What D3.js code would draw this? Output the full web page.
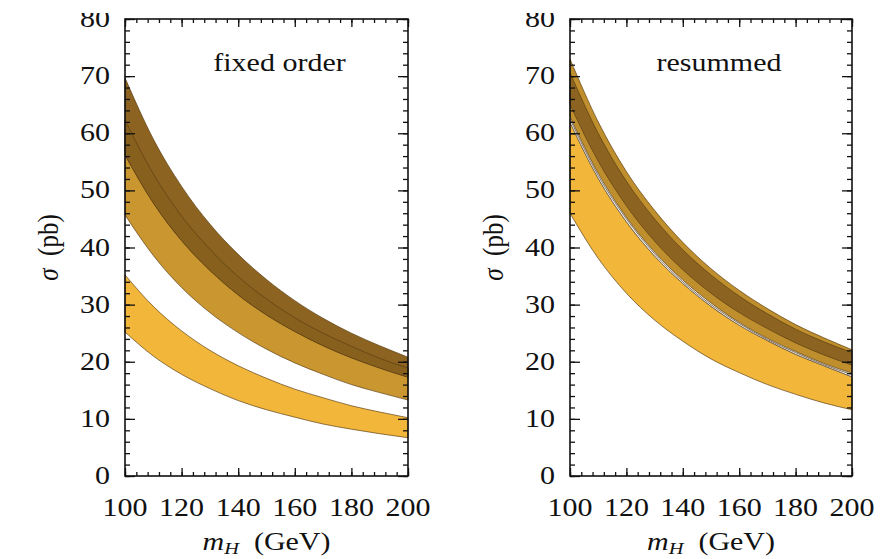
<!DOCTYPE html>
<html>
<head>
<meta charset="utf-8">
<script src="https://cdn.jsdelivr.net/npm/d3@7"></script>
<style>
  body { margin: 0; background: #fff; }
  text { font-family: "Liberation Serif", "Times New Roman", serif; fill: #111; }
</style>
</head>
<body>
<div id="chart"></div>
<script>
// Higgs mass grid (GeV)
const mH = [100, 110, 120, 130, 140, 150, 160, 170, 180, 190, 200];
const xTicks = [100, 120, 140, 160, 180, 200];
const yTicks = [0, 10, 20, 30, 40, 50, 60, 70, 80];

// fixed order panel (pb)
const loLow    = [25.2, 21.0, 17.8, 15.3, 13.2, 11.6, 10.3, 9.1, 8.2, 7.4, 6.7];
const loHigh   = [35.2, 29.7, 25.4, 22.0, 19.3, 17.1, 15.2, 13.7, 12.3, 11.2, 10.2];
const nloLow   = [45.7, 38.6, 33.0, 28.6, 25.1, 22.2, 19.8, 17.8, 16.0, 14.6, 13.3];
const nloHigh  = [62.3, 52.9, 45.5, 39.7, 34.9, 31.0, 27.7, 25.0, 22.7, 20.6, 18.9];
const nnloLow  = [56.2, 47.8, 41.2, 36.0, 31.7, 28.2, 25.3, 22.8, 20.7, 18.9, 17.3];
const nnloHigh = [69.7, 59.0, 50.7, 44.1, 38.8, 34.4, 30.7, 27.6, 25.0, 22.8, 20.8];

// resummed panel (pb)
const nllLow    = [46.0, 38.1, 32.0, 27.3, 23.6, 20.5, 18.1, 16.0, 14.3, 12.8, 11.6];
const nllHigh   = [61.9, 52.1, 44.5, 38.5, 33.7, 29.7, 26.4, 23.7, 21.3, 19.3, 17.35];
const thinHigh  = [62.5, 52.6, 45.0, 38.9, 34.0, 30.0, 26.7, 23.9, 21.6, 19.5, 17.75];
const nnllLow   = [62.9, 53.0, 45.3, 39.2, 34.3, 30.3, 26.9, 24.1, 21.8, 19.7, 18.0];
const nnllHigh  = [73.0, 62.0, 53.3, 46.5, 40.9, 36.3, 32.5, 29.3, 26.5, 24.2, 22.1];
const coreLow   = [65.0, 55.1, 47.3, 41.1, 36.1, 32.0, 28.6, 25.8, 23.3, 21.2, 19.4];
const coreHigh  = [70.6, 60.0, 51.6, 45.0, 39.6, 35.2, 31.5, 28.4, 25.7, 23.5, 21.6];

const W = 886, H = 559;
const plotTop = 19, plotBottom = 476;
const panels = [
    {left: 125, right: 408, title: "fixed order", titleShift: 13,
     bands: [
        {lo: loLow, hi: loHigh, fill: "#f2b63a"},
        {lo: nloLow, hi: nloHigh, fill: "#c9962f"},
        {lo: nnloLow, hi: nnloHigh, fill: "#8c6320"},
        {lo: nnloLow, hi: nloHigh, fill: "#87601e"}
     ]},
    {left: 570, right: 852, title: "resummed", titleShift: 8,
     bands: [
        {lo: nllLow, hi: nllHigh, fill: "#f2b63a"},
        {lo: nllHigh, hi: thinHigh, fill: "#ffffff", stroke: "#6b5a45", sw: 1},
        {lo: nnllLow, hi: nnllHigh, fill: "#bf8e2d"},
        {lo: coreLow, hi: coreHigh, fill: "#8c6320"}
     ]}
];

const svg = d3.select("#chart").append("svg")
    .attr("width", W)
    .attr("height", H);

// the top of the "80" labels is cropped in the original figure
svg.append("clipPath")
    .attr("id", "labelClip")
    .append("rect")
    .attr("x", 0)
    .attr("y", 13)
    .attr("width", W)
    .attr("height", H - 13);

const sx = 1.2; // the original figure is stretched sideways

panels.forEach(p => {
    let x = d3.scaleLinear().domain([100, 200]).range([p.left, p.right]);
    let y = d3.scaleLinear().domain([0, 80]).range([plotBottom, plotTop]);

    let g = svg.append("g");

    p.bands.forEach(b => {
        let area = d3.area()
            .x((d, i) => x(mH[i]))
            .y0((d, i) => y(b.lo[i]))
            .y1((d, i) => y(b.hi[i]))
            .curve(d3.curveMonotoneX);
        g.append("path")
            .datum(mH)
            .attr("d", area)
            .attr("fill", b.fill)
            .attr("stroke", b.stroke || "#5a3d12")
            .attr("stroke-width", b.sw || 0.8)
            .attr("stroke-opacity", 0.85);
    });

    // frame with inward ticks on all sides
    let minorX = d3.range(100, 201, 4);
    let minorY = d3.range(0, 81, 2);

    let axB = d3.axisBottom(x).tickValues(minorX).tickFormat("").tickSizeOuter(0)
        .tickSizeInner(-4);
    let axT = d3.axisTop(x).tickValues(minorX).tickFormat("").tickSizeOuter(0)
        .tickSizeInner(-4);
    let axL = d3.axisLeft(y).tickValues(minorY).tickFormat("").tickSizeOuter(0)
        .tickSizeInner(-5);
    let axR = d3.axisRight(y).tickValues(minorY).tickFormat("").tickSizeOuter(0)
        .tickSizeInner(-5);

    [[axB, `translate(0,${plotBottom})`], [axT, `translate(0,${plotTop})`],
     [axL, `translate(${p.left},0)`], [axR, `translate(${p.right},0)`]].forEach(([ax, tr]) => {
        let a = g.append("g").attr("transform", tr).call(ax);
        a.select(".domain").remove();
        a.selectAll("line").attr("stroke", "#111").attr("stroke-width", 1.3);
    });

    // longer major ticks
    let majB = d3.axisBottom(x).tickValues(xTicks).tickFormat("").tickSizeOuter(0).tickSizeInner(-8);
    let majT = d3.axisTop(x).tickValues(xTicks).tickFormat("").tickSizeOuter(0).tickSizeInner(-8);
    let majL = d3.axisLeft(y).tickValues(yTicks).tickFormat("").tickSizeOuter(0).tickSizeInner(-10);
    let majR = d3.axisRight(y).tickValues(yTicks).tickFormat("").tickSizeOuter(0).tickSizeInner(-10);
    [[majB, `translate(0,${plotBottom})`], [majT, `translate(0,${plotTop})`],
     [majL, `translate(${p.left},0)`], [majR, `translate(${p.right},0)`]].forEach(([ax, tr]) => {
        let a = g.append("g").attr("transform", tr).call(ax);
        a.select(".domain").remove();
        a.selectAll("line").attr("stroke", "#111").attr("stroke-width", 1.3);
    });

    g.append("rect")
        .attr("x", p.left)
        .attr("y", plotTop)
        .attr("width", p.right - p.left)
        .attr("height", plotBottom - plotTop)
        .attr("fill", "none")
        .attr("stroke", "#111")
        .attr("stroke-width", 1.6);

    // tick labels
    g.selectAll(".xl")
        .data(xTicks)
        .enter()
        .append("text")
        .attr("text-anchor", "middle")
        .attr("transform", d => `translate(${x(d)},${plotBottom + 40}) scale(${sx},1)`)
        .style("font-size", "25px")
        .text(d => d);

    g.append("g")
        .attr("clip-path", "url(#labelClip)")
        .selectAll("text")
        .data(yTicks)
        .enter()
        .append("text")
        .attr("text-anchor", "end")
        .attr("transform", d => `translate(${p.left - 15},${y(d) + 8}) scale(${sx},1)`)
        .style("font-size", "25px")
        .text(d => d);

    // panel title
    g.append("text")
        .attr("text-anchor", "middle")
        .attr("transform", `translate(${x(150) + p.titleShift},${y(70) - 5}) scale(${sx},1)`)
        .style("font-size", "25px")
        .text(p.title);

    // axis titles
    let xt = g.append("text")
        .attr("text-anchor", "middle")
        .attr("transform", `translate(${x(150)},${H - 9}) scale(${sx},1)`)
        .style("font-size", "25px");
    xt.append("tspan").style("font-style", "italic").text("m");
    xt.append("tspan").style("font-style", "italic").style("font-size", "17px")
        .attr("dy", 4).text("H");
    xt.append("tspan").attr("dy", -4).text("\u2002(GeV)");

    let yt = g.append("text")
        .attr("text-anchor", "middle")
        .attr("transform", `translate(${p.left - 67},${y(40)}) rotate(-90) scale(1,${sx})`)
        .style("font-size", "25px");
    yt.append("tspan").style("font-style", "italic").text("\u03c3");
    yt.append("tspan").text("\u2002(pb)");
});
</script>
</body>
</html>
